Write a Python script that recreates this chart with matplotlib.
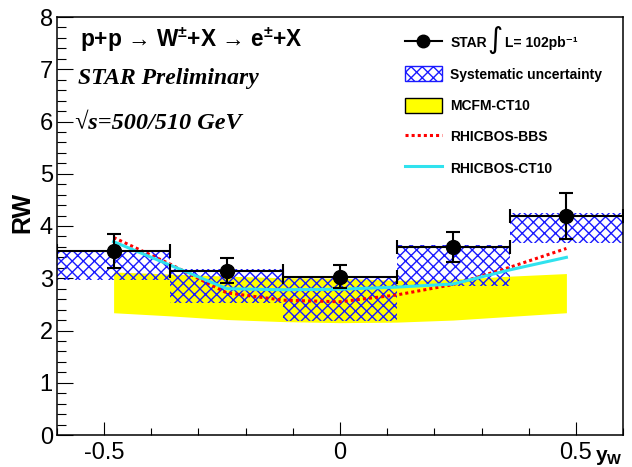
import matplotlib
matplotlib.use("Agg")
import numpy as np
import matplotlib.pyplot as plt
from matplotlib.patches import Patch
from matplotlib.lines import Line2D
from matplotlib.ticker import MultipleLocator, FixedLocator

plt.rcParams['font.family'] = ['Liberation Sans', 'DejaVu Sans']
plt.rcParams['mathtext.fontset'] = 'custom'
plt.rcParams['mathtext.rm'] = 'Liberation Sans:bold'
plt.rcParams['mathtext.bf'] = 'Liberation Sans:bold'
plt.rcParams['mathtext.it'] = 'Liberation Sans:bold:italic'
plt.rcParams['hatch.linewidth'] = 1.0

# ---------------- data ----------------
bin_edges = [-0.6, -0.36, -0.12, 0.12, 0.36, 0.6]
y_w = [-0.48, -0.24, 0.0, 0.24, 0.48]
rw = [3.52, 3.13, 3.02, 3.59, 4.19]
stat_up = [0.33, 0.25, 0.23, 0.30, 0.45]
stat_dn = [0.33, 0.23, 0.21, 0.27, 0.44]
sys_lo = [2.97, 2.52, 2.19, 2.85, 3.67]
sys_hi = [3.55, 3.17, 3.03, 3.64, 4.24]

theory_y = [-0.48, -0.36, -0.24, -0.12, 0.0, 0.12, 0.24, 0.36, 0.48]
mcfm_lo = [2.34, 2.28, 2.21, 2.17, 2.15, 2.16, 2.20, 2.27, 2.34]
mcfm_hi = [3.12, 3.08, 3.04, 3.01, 3.00, 2.96, 2.98, 3.04, 3.09]
rhicbos_bbs = [3.78, 3.27, 2.72, 2.58, 2.55, 2.68, 2.88, 3.21, 3.57]
rhicbos_ct10 = [3.70, 3.25, 2.80, 2.78, 2.79, 2.83, 2.89, 3.16, 3.40]

x_ticks = [-0.5, 0.0, 0.5]
x_ticklabels = ['-0.5', '0', '0.5']
y_ticks = [0, 1, 2, 3, 4, 5, 6, 7, 8]

labels = ['STAR', 'Systematic uncertainty', 'MCFM-CT10',
          'RHICBOS-BBS', 'RHICBOS-CT10']
lumi_label = 'L= 102pb\u207b\u00b9'

# ---------------- styles ----------------
W, H = 632, 467
YELLOW = '#ffff00'
HATCH_BLUE = '#1a1aff'
CYAN = '#30e2ee'
RED = '#ff0000'

fig = plt.figure(figsize=(W / 100, H / 100), dpi=100)
ax = fig.add_axes([57 / W, 32 / H, 566 / W, 418 / H])

ax.fill_between(theory_y, mcfm_lo, mcfm_hi, color=YELLOW, lw=0, zorder=1)

edges = np.array(bin_edges)
widths = np.diff(edges)
ax.bar(edges[:-1], np.array(sys_hi) - np.array(sys_lo), width=widths,
       bottom=sys_lo, align='edge', facecolor='none', edgecolor=HATCH_BLUE,
       hatch='xxx', linewidth=0, zorder=2)

ax.plot(theory_y, rhicbos_bbs, color=RED, lw=2.2, ls=(0, (1, 1)), zorder=4)
ax.plot(theory_y, rhicbos_ct10, color=CYAN, lw=2.2, zorder=4)

eb = ax.errorbar(y_w, rw, xerr=widths / 2, yerr=[stat_dn, stat_up], fmt='o',
                 color='black', ms=10, elinewidth=1.5, capsize=5, capthick=1.5,
                 zorder=5)

ax.set_xlim(-0.6, 0.6)
ax.set_ylim(0, 8)
ax.xaxis.set_major_locator(FixedLocator(x_ticks))
ax.set_xticklabels(x_ticklabels)
ax.xaxis.set_minor_locator(MultipleLocator(0.1))
ax.yaxis.set_major_locator(FixedLocator(y_ticks))
ax.set_yticklabels([str(v) for v in y_ticks])
ax.yaxis.set_minor_locator(MultipleLocator(0.2))
ax.tick_params(which='both', direction='in', top=False, right=False,
               labelsize=17, width=0.8)
ax.tick_params(axis='y', which='major', length=11.5, pad=3)
ax.tick_params(axis='y', which='minor', length=6.5)
ax.tick_params(axis='x', which='major', length=9.4, pad=5)
ax.tick_params(axis='x', which='minor', length=5)
for s in ax.spines.values():
    s.set_linewidth(1.1)

# texts
fig.text(80 / W, 1 - 47 / H, 'p+p \u2192 W$^{\\pm}$+X \u2192 e$^{\\pm}$+X',
         fontsize=16.3, weight='bold', va='baseline')
fig.text(78 / W, 1 - 84 / H, 'STAR Preliminary',
         family=['Liberation Serif', 'DejaVu Serif'], style='italic',
         weight='bold', fontsize=17, va='baseline')
fig.text(75 / W, 1 - 129 / H, '\u221as=500/510 GeV',
         family=['Liberation Serif', 'DejaVu Serif'], style='italic',
         weight='bold', fontsize=17.5, va='baseline')
fig.text(22 / W, 1 - 212 / H, 'RW', rotation=90, weight='bold', fontsize=18,
         ha='center', va='center')
fig.text(623 / W, 1 - 461 / H, r'$\mathbf{y_W}$', ha='right', va='baseline',
         fontsize=15)

# legend
try:
    sys_handle = Patch(facecolor='white', edgecolor='black', hatch='xxx',
                       hatchcolor=HATCH_BLUE, linewidth=1)
except Exception:
    sys_handle = Patch(facecolor='white', edgecolor=HATCH_BLUE, hatch='xxx',
                       linewidth=1)
star_handle = Line2D([], [], color='black', lw=1.5, marker='o', ms=9)
handles = [star_handle, sys_handle,
           Patch(facecolor=YELLOW, edgecolor='black', linewidth=1),
           Line2D([], [], color=RED, lw=2.2, ls=(0, (1, 1))),
           Line2D([], [], color=CYAN, lw=2.2)]
leg = ax.legend(handles, labels, loc='upper left',
                bbox_to_anchor=(405 / W, 1 - 35.0 / H),
                bbox_transform=fig.transFigure, frameon=False, borderpad=0,
                borderaxespad=0, handlelength=2.65, handleheight=1.3,
                handletextpad=0.6, labelspacing=1.16,
                prop={'weight': 'bold', 'size': 10})

# integral sign and luminosity next to the STAR legend entry
fig.canvas.draw()
renderer = fig.canvas.get_renderer()
t0 = leg.get_texts()[0]
bb = t0.get_window_extent(renderer)
bx, by = t0.get_transform().transform(t0.get_position())
fw, fh = fig.bbox.width, fig.bbox.height
fig.text((bb.x1 + 8) / fw, ((bb.y0 + bb.y1) / 2 + 3) / fh, '\u222b',
         family=['DejaVu Sans'], fontsize=21, ha='center', va='center')
fig.text((bb.x1 + 18) / fw, by / fh, lumi_label, fontsize=10, weight='bold',
         ha='left', va='baseline')

fig.savefig('out.png', dpi=100)
